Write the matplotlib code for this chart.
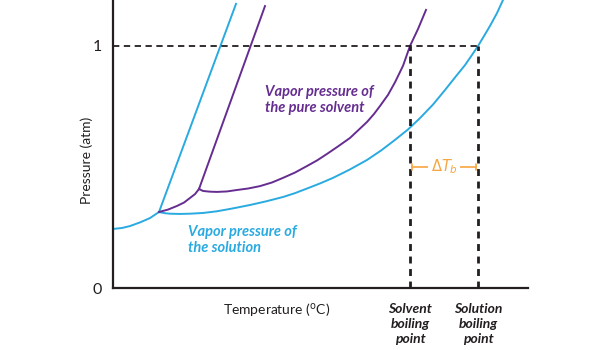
import matplotlib
matplotlib.use("Agg")
import matplotlib.pyplot as plt

# values (arbitrary temperature units, pressure in atm)
solution_sub_t = [0, 9, 17, 27, 37, 46]
solution_sub_p = [0.244, 0.248, 0.256, 0.271, 0.289, 0.314]
solution_vap_t = [46, 52, 57, 67, 77, 90, 104, 120, 137, 153, 170, 182, 194, 207, 220, 237,
                  254, 268, 282, 295, 307, 320, 332, 342, 352, 359, 365, 371, 377, 384, 390, 394]
solution_vap_p = [0.314, 0.309, 0.307, 0.306, 0.307, 0.310, 0.317, 0.329, 0.343, 0.358,
                  0.376, 0.392, 0.411, 0.432, 0.455, 0.490, 0.529, 0.568, 0.612, 0.655,
                  0.702, 0.758, 0.818, 0.870, 0.921, 0.963, 1.0, 1.041, 1.083, 1.136,
                  1.190, 1.227]
solution_fus_t = [46, 123]
solution_fus_p = [0.314, 1.174]

solvent_sub_t = [46, 55, 64, 71, 77, 82, 86]
solvent_sub_p = [0.314, 0.324, 0.339, 0.353, 0.372, 0.388, 0.409]
solvent_vap_t = [86, 90, 97, 104, 114, 124, 135, 147, 159, 170, 182, 194, 204, 214, 225, 237,
                 245, 254, 261, 267, 275, 282, 290, 297, 305, 313]
solvent_vap_p = [0.409, 0.401, 0.398, 0.397, 0.399, 0.405, 0.411, 0.421, 0.436, 0.455,
                 0.477, 0.504, 0.527, 0.554, 0.585, 0.620, 0.651, 0.686, 0.719, 0.752,
                 0.798, 0.850, 0.918, 1.0, 1.070, 1.149]
solvent_fus_t = [86, 152]
solvent_fus_p = [0.409, 1.165]

solvent_bp = 297
solution_bp = 365
p_atm = 1.0

BLUE = "#29aae1"
PURPLE = "#662d91"
ORANGE = "#f7a541"
INK = "#231f20"

plt.rcParams["font.family"] = ["Lato", "DejaVu Sans"]

fig = plt.figure(figsize=(6, 3.5), dpi=100)
ax = fig.add_axes([113 / 600, 62 / 350, 415 / 600, 288 / 350])

lw = 1.4
ax.plot(solution_sub_t, solution_sub_p, color=BLUE, lw=lw)
ax.plot(solution_vap_t, solution_vap_p, color=BLUE, lw=lw)
ax.plot(solution_fus_t, solution_fus_p, color=BLUE, lw=lw)
ax.plot(solvent_sub_t, solvent_sub_p, color=PURPLE, lw=lw)
ax.plot(solvent_vap_t, solvent_vap_p, color=PURPLE, lw=lw)
ax.plot(solvent_fus_t, solvent_fus_p, color=PURPLE, lw=lw)

# 1 atm guide and boiling points
ax.plot([0, solution_bp], [p_atm, p_atm], color=INK, lw=1.3, ls=(0, (3.5, 2.5)))
ax.plot([solvent_bp, solvent_bp], [0, p_atm], color=INK, lw=2, ls=(0, (2.5, 2)))
ax.plot([solution_bp, solution_bp], [0, p_atm], color=INK, lw=2, ls=(0, (2.5, 2)))

# delta T_b marker
ax.annotate("", xy=(solvent_bp + 2, 0.5), xytext=(solution_bp - 2, 0.5),
            arrowprops=dict(arrowstyle="|-|, widthA=0.25, widthB=0.25",
                            color=ORANGE, lw=1.2, shrinkA=0, shrinkB=0))
ax.text((solvent_bp + solution_bp) / 2, 0.5, r"$\Delta T_b$", color=ORANGE,
        ha="center", va="center", fontsize=10.5,
        bbox=dict(facecolor="white", edgecolor="none", pad=1.5))

ax.text(152, 0.838, "Vapor pressure of\nthe pure solvent", color=PURPLE,
        fontsize=10.5, fontweight="bold", fontstyle="italic",
        ha="left", va="top", linespacing=1.2)
ax.text(75, 0.26, "Vapor pressure of\nthe solution", color=BLUE,
        fontsize=10.5, fontweight="bold", fontstyle="italic",
        ha="left", va="top", linespacing=1.2)

ax.set_xlim(0, 415)
ax.set_ylim(0, 1.19)
ax.set_yticks([0, p_atm])
ax.set_yticklabels(["0", "1"], fontsize=11.5, color=INK)
ax.tick_params(axis="y", length=0, pad=8)
ax.set_xticks([])
for side in ["top", "right"]:
    ax.spines[side].set_visible(False)
for side in ["left", "bottom"]:
    ax.spines[side].set_linewidth(1.6)
    ax.spines[side].set_color(INK)

ax.set_ylabel("Pressure (atm)", fontsize=10, color=INK)
ax.yaxis.set_label_coords(-0.048, 0.444)

ax.text(164, -0.09, r"Temperature ($^{\mathrm{o}}$C)", fontsize=10, color=INK,
        ha="center", va="center", clip_on=False)
ax.text(solvent_bp, -0.062, "Solvent\nboiling\npoint", fontsize=10, color=INK,
        fontweight="bold", fontstyle="italic", ha="center", va="top",
        linespacing=1.3, clip_on=False)
ax.text(solution_bp, -0.062, "Solution\nboiling\npoint", fontsize=10, color=INK,
        fontweight="bold", fontstyle="italic", ha="center", va="top",
        linespacing=1.3, clip_on=False)

fig.savefig("out.png", dpi=100)
